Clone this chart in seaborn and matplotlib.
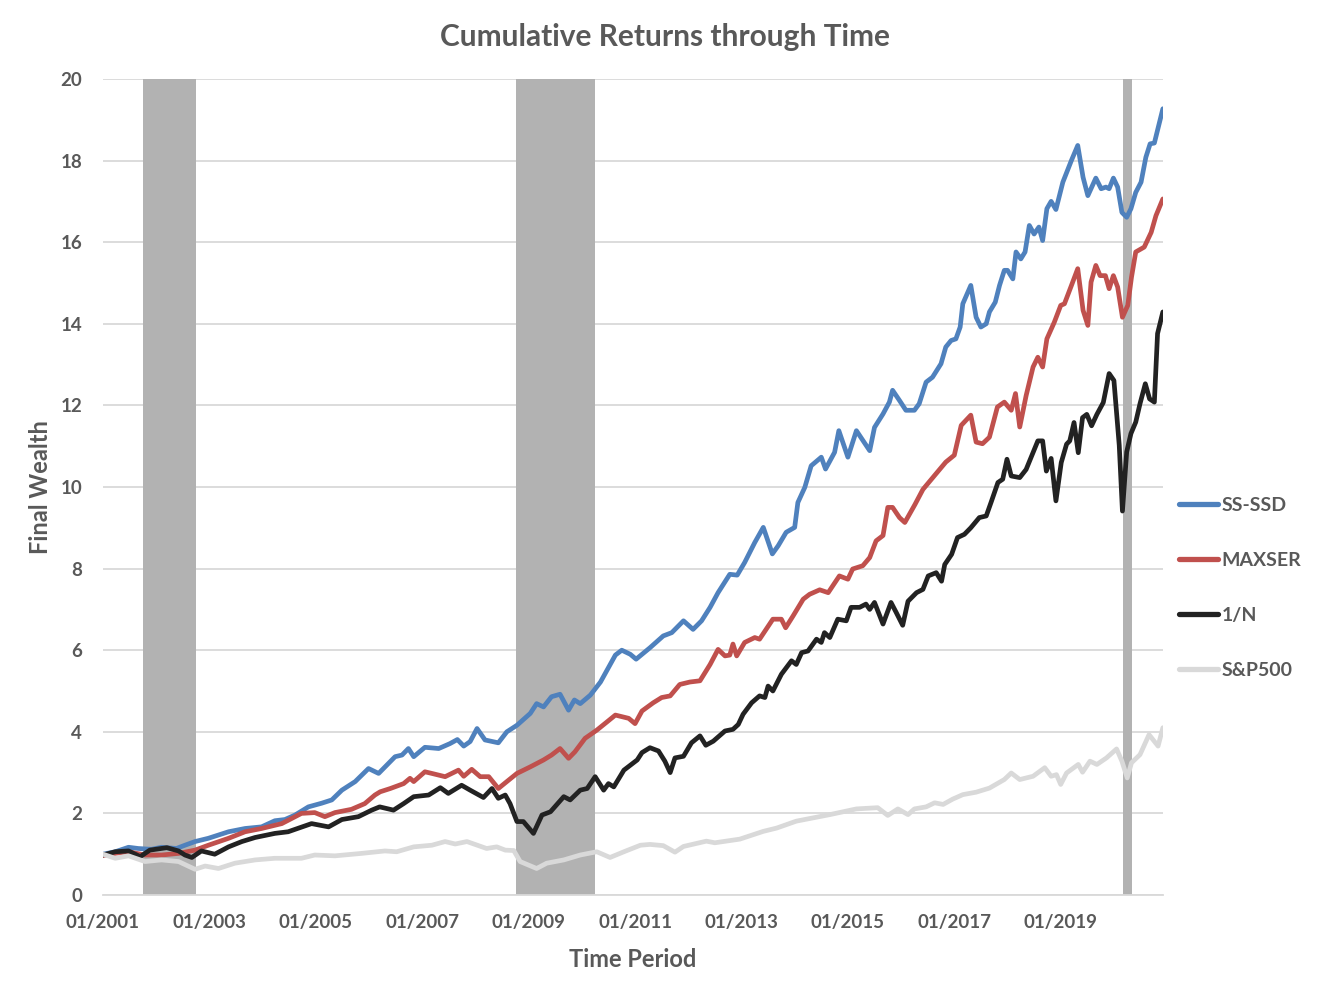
import pandas as pd
import matplotlib.pyplot as plt
import seaborn as sns

# Years since 01/2001 and final wealth
ss_ssd_t = [0.00, 0.23, 0.48, 0.66, 0.91, 1.10, 1.38, 1.54, 1.73, 1.98, 2.36, 2.67, 2.98, 3.23, 3.42,
            3.61, 3.86, 4.11, 4.30, 4.49, 4.74, 4.99, 5.18, 5.30, 5.49, 5.62, 5.74, 5.84, 6.05, 6.31,
            6.52, 6.66, 6.78, 6.90, 7.03, 7.18, 7.43, 7.59, 7.78, 8.03, 8.15, 8.28, 8.43, 8.59, 8.75,
            8.86, 8.97, 9.16, 9.35, 9.63, 9.75, 9.91, 10.02, 10.28, 10.53, 10.69, 10.91, 11.09, 11.25,
            11.41, 11.56, 11.78, 11.92, 12.06, 12.25, 12.41, 12.58, 12.69, 12.84, 13.00, 13.06, 13.19,
            13.31, 13.50, 13.58, 13.75, 13.83, 14.00, 14.16, 14.41, 14.50, 14.66, 14.78, 14.84, 14.97,
            15.09, 15.25, 15.34, 15.47, 15.59, 15.75, 15.84, 15.94, 16.03, 16.11, 16.16, 16.31, 16.41,
            16.50, 16.60, 16.66, 16.77, 16.85, 16.94, 17.00, 17.10, 17.16, 17.25, 17.33, 17.41, 17.50,
            17.59, 17.66, 17.74, 17.82, 17.91, 18.04, 18.20, 18.32, 18.42, 18.51, 18.66, 18.76, 18.85,
            18.91, 18.99, 19.07, 19.15, 19.24, 19.32, 19.41, 19.51, 19.60, 19.68, 19.76, 19.92]
ss_ssd_v = [1.00, 1.06, 1.17, 1.14, 1.12, 1.17, 1.14, 1.22, 1.31, 1.39, 1.55, 1.63, 1.67, 1.82, 1.85,
            1.96, 2.16, 2.25, 2.33, 2.57, 2.78, 3.10, 2.98, 3.14, 3.39, 3.43, 3.59, 3.39, 3.62, 3.59,
            3.71, 3.81, 3.65, 3.76, 4.08, 3.80, 3.73, 4.00, 4.16, 4.45, 4.69, 4.61, 4.86, 4.92, 4.53,
            4.78, 4.69, 4.90, 5.22, 5.88, 6.00, 5.90, 5.78, 6.06, 6.35, 6.43, 6.72, 6.51, 6.72,
            7.05, 7.41, 7.86, 7.84, 8.15, 8.64, 9.01, 8.36, 8.56, 8.89, 9.01, 9.62, 9.99,
            10.52, 10.73, 10.44, 10.85, 11.38, 10.73, 11.38, 10.89, 11.46, 11.79, 12.08, 12.37, 12.12,
            11.88, 11.88, 12.04, 12.57, 12.69, 13.02, 13.43, 13.59, 13.63, 13.92, 14.49, 14.94, 14.16,
            13.92, 14.00, 14.29, 14.53, 14.94, 15.31, 15.31, 15.10, 15.76, 15.59, 15.76, 16.41, 16.20,
            16.37, 16.04, 16.82, 17.00, 16.80, 17.47, 18.00, 18.37, 17.59, 17.14, 17.57, 17.31, 17.35,
            17.31, 17.57, 17.35, 16.73, 16.61, 16.82, 17.22, 17.47, 18.08, 18.41, 18.43, 19.27]

maxser_t = [0.00, 0.23, 0.48, 0.79, 1.10, 1.42, 1.73, 1.98, 2.36, 2.67, 2.98, 3.36, 3.73, 3.98, 4.17,
            4.36, 4.67, 4.92, 5.11, 5.21, 5.40, 5.65, 5.77, 5.84, 6.05, 6.18, 6.43, 6.68, 6.78, 6.93,
            7.09, 7.25, 7.43, 7.59, 7.78, 8.03, 8.28, 8.43, 8.59, 8.75, 8.87, 9.06, 9.28, 9.47, 9.63,
            9.88, 10.00, 10.13, 10.34, 10.50, 10.66, 10.84, 11.03, 11.22, 11.41, 11.56, 11.69, 11.78,
            11.84, 11.91, 12.06, 12.25, 12.34, 12.59, 12.75, 12.83, 12.97, 13.16, 13.28, 13.47, 13.63,
            13.84, 14.00, 14.09, 14.28, 14.41, 14.53, 14.66, 14.75, 14.84, 14.97, 15.07, 15.26, 15.41,
            15.66, 15.84, 16.00, 16.13, 16.31, 16.41, 16.53, 16.66, 16.81, 16.94, 17.07, 17.15, 17.23,
            17.35, 17.48, 17.57, 17.66, 17.74, 17.88, 18.00, 18.07, 18.19, 18.32, 18.42, 18.51, 18.57,
            18.66, 18.74, 18.84, 18.91, 18.99, 19.07, 19.16, 19.26, 19.33, 19.41, 19.57, 19.70, 19.79,
            19.92]
maxser_v = [0.97, 1.02, 1.06, 0.98, 0.98, 1.02, 1.10, 1.22, 1.39, 1.55, 1.63, 1.75, 2.00, 2.02, 1.92,
            2.02, 2.10, 2.24, 2.45, 2.53, 2.61, 2.73, 2.86, 2.78, 3.02, 2.98, 2.90, 3.06, 2.91, 3.08,
            2.90, 2.90, 2.61, 2.78, 2.98, 3.14, 3.31, 3.43, 3.59, 3.35, 3.51, 3.84, 4.04, 4.24, 4.41,
            4.33, 4.20, 4.51, 4.71, 4.84, 4.88, 5.16, 5.22, 5.25, 5.65, 6.02, 5.86, 5.88,
            6.15, 5.86, 6.19, 6.31, 6.27, 6.76, 6.76, 6.55, 6.84, 7.25, 7.37, 7.48, 7.41,
            7.82, 7.74, 7.99, 8.07, 8.27, 8.68, 8.81, 9.50, 9.50, 9.25, 9.13, 9.57, 9.94,
            10.33, 10.61, 10.78, 11.51, 11.76, 11.10, 11.06, 11.22, 11.96, 12.08, 11.88, 12.29, 11.47,
            12.24, 12.94, 13.18, 12.94, 13.63, 14.04, 14.45, 14.49, 14.90, 15.35, 14.33, 13.96, 15.02,
            15.43, 15.18, 15.18, 14.86, 15.18, 14.90, 14.16, 14.45, 15.14, 15.76, 15.88, 16.24, 16.65,
            17.06]

equal_t = [0.00, 0.23, 0.48, 0.70, 0.88, 1.20, 1.42, 1.54, 1.67, 1.85, 2.10, 2.36, 2.61, 2.86, 3.23,
           3.48, 3.92, 4.24, 4.49, 4.80, 5.05, 5.20, 5.46, 5.65, 5.84, 6.12, 6.34, 6.49, 6.74, 6.90,
           7.15, 7.31, 7.43, 7.56, 7.65, 7.78, 7.90, 8.09, 8.25, 8.41, 8.66, 8.78, 8.97, 9.10, 9.25,
           9.41, 9.50, 9.60, 9.79, 10.04, 10.13, 10.28, 10.44, 10.56, 10.66, 10.75, 10.91, 11.06,
           11.22, 11.33, 11.47, 11.69, 11.84, 11.94, 12.03, 12.19, 12.34, 12.44, 12.50, 12.59, 12.75,
           12.94, 13.03, 13.13, 13.25, 13.41, 13.50, 13.56, 13.66, 13.81, 13.97, 14.06, 14.22, 14.34,
           14.41, 14.50, 14.66, 14.81, 14.91, 15.03, 15.13, 15.29, 15.41, 15.51, 15.66, 15.76, 15.82,
           15.95, 16.06, 16.19, 16.31, 16.47, 16.60, 16.69, 16.82, 16.91, 16.99, 17.07, 17.23, 17.35,
           17.48, 17.57, 17.66, 17.73, 17.82, 17.91, 18.01, 18.11, 18.17, 18.25, 18.33, 18.41, 18.49,
           18.58, 18.68, 18.80, 18.91, 19.00, 19.10, 19.16, 19.24, 19.32, 19.41, 19.49, 19.59, 19.67,
           19.76, 19.82, 19.92]
equal_v = [0.98, 1.06, 1.08, 0.94, 1.10, 1.16, 1.08, 0.98, 0.92, 1.08, 1.00, 1.18, 1.31, 1.41, 1.51,
           1.55, 1.75, 1.67, 1.85, 1.92, 2.08, 2.16, 2.08, 2.24, 2.41, 2.45, 2.63, 2.49, 2.69, 2.57,
           2.39, 2.61, 2.37, 2.45, 2.24, 1.80, 1.80, 1.51, 1.96, 2.04, 2.41, 2.33, 2.57, 2.61, 2.90,
           2.57, 2.73, 2.65, 3.06, 3.31, 3.49, 3.61, 3.53, 3.28, 3.00, 3.36, 3.40, 3.73,
           3.90, 3.67, 3.77, 4.02, 4.06, 4.18, 4.43, 4.71, 4.88, 4.84, 5.12, 5.00, 5.41,
           5.74, 5.65, 5.94, 5.98, 6.27, 6.19, 6.43, 6.31, 6.76, 6.72, 7.05, 7.05, 7.13,
           7.00, 7.17, 6.64, 7.17, 6.92, 6.61, 7.20, 7.41, 7.49, 7.82, 7.90, 7.69, 8.10,
           8.35, 8.76, 8.84, 9.00, 9.25, 9.29, 9.62, 10.11, 10.19, 10.68, 10.27, 10.23, 10.43,
           10.84, 11.13, 11.13, 10.39, 10.70, 9.66, 10.60, 11.05, 11.13, 11.58, 10.84, 11.70, 11.78,
           11.50, 11.78, 12.07, 12.78, 12.61, 11.02, 9.41, 10.86, 11.31, 11.59, 12.04, 12.53, 12.16,
           12.08, 13.76, 14.29]

sp500_t = [0.00, 0.23, 0.48, 0.79, 1.10, 1.42, 1.73, 1.92, 2.17, 2.48, 2.86, 3.23, 3.73, 3.98, 4.36,
           4.86, 5.30, 5.52, 5.84, 6.18, 6.43, 6.62, 6.84, 7.21, 7.40, 7.56, 7.72, 7.84, 8.15, 8.34,
           8.66, 8.97, 9.28, 9.53, 9.79, 10.10, 10.28, 10.53, 10.75, 10.91, 11.34, 11.50, 11.97,
           12.41, 12.66, 13.03, 13.66, 14.16, 14.56, 14.75, 14.94, 15.13, 15.25, 15.47, 15.63, 15.79,
           15.97, 16.16, 16.41, 16.66, 16.94, 17.07, 17.23, 17.48, 17.70, 17.82, 17.92, 18.00, 18.11,
           18.33, 18.41, 18.55, 18.68, 18.86, 19.05, 19.15, 19.25, 19.33, 19.49, 19.66, 19.83, 19.92]
sp500_v = [1.00, 0.90, 0.96, 0.82, 0.86, 0.82, 0.63, 0.71, 0.65, 0.78, 0.86, 0.90, 0.90, 0.98, 0.96,
           1.02, 1.08, 1.06, 1.18, 1.22, 1.31, 1.25, 1.31, 1.14, 1.18, 1.10, 1.09, 0.82, 0.65, 0.78,
           0.86, 0.98, 1.06, 0.92, 1.06, 1.22, 1.24, 1.21, 1.05, 1.19, 1.32, 1.28, 1.37,
           1.56, 1.64, 1.81, 1.97, 2.11, 2.14, 1.95, 2.11, 1.97, 2.11, 2.16, 2.26, 2.22,
           2.35, 2.46, 2.52, 2.62, 2.83, 2.99, 2.83, 2.91, 3.12, 2.91, 2.95, 2.71, 2.99,
           3.20, 3.01, 3.28, 3.20, 3.36, 3.58, 3.28, 2.87, 3.24, 3.44, 3.93, 3.65, 4.10]

strategies = ["SS-SSD", "MAXSER", "1/N", "S&P500"]
colors = ["#4F81BD", "#C0504D", "#222222", "#D9D9D9"]
crisis_spans = [(2001.76, 2002.74), (2008.76, 2010.25), (2020.17, 2020.34)]
tick_years = [2001, 2003, 2005, 2007, 2009, 2011, 2013, 2015, 2017, 2019]
tick_labels = ["01/2001", "01/2003", "01/2005", "01/2007", "01/2009",
               "01/2011", "01/2013", "01/2015", "01/2017", "01/2019"]

series = [(ss_ssd_t, ss_ssd_v), (maxser_t, maxser_v), (equal_t, equal_v), (sp500_t, sp500_v)]
frames = []
for name, (t, v) in zip(strategies, series):
    frames.append(pd.DataFrame({"year": [2001 + x for x in t], "wealth": v, "strategy": name}))
df = pd.concat(frames, ignore_index=True)

sns.set_theme(style="white")
plt.rcParams["font.family"] = ["Lato", "DejaVu Sans"]
text_col = "#595959"

fig = plt.figure(figsize=(13.29, 9.97), dpi=100)
ax = fig.add_axes([0.0775, 0.1023, 0.7975, 0.8185])

# shaded crisis periods
for lo, hi in crisis_spans:
    ax.axvspan(lo, hi, color="#B2B2B2", lw=0, zorder=1)

sns.lineplot(data=df, x="year", y="wealth", hue="strategy", hue_order=strategies,
             palette=dict(zip(strategies, colors)), estimator=None, sort=True,
             linewidth=3.4, ax=ax, legend=False, zorder=3)

ax.set_xlim(2001, 2020.92)
ax.set_ylim(0, 20)
ax.set_yticks(range(0, 21, 2))
ax.set_xticks(tick_years)
ax.set_xticklabels(tick_labels)
ax.yaxis.grid(True, color="#D9D9D9", lw=1.3, zorder=0)
ax.set_axisbelow(True)
for s in ["top", "right", "left"]:
    ax.spines[s].set_visible(False)
ax.spines["bottom"].set_color("#D9D9D9")
ax.spines["bottom"].set_linewidth(1.3)
ax.spines["bottom"].set_zorder(2)
ax.tick_params(axis="x", length=5, width=1.3, color="#D9D9D9", pad=9,
               labelsize=13.5, labelcolor=text_col)
ax.tick_params(axis="y", length=0, pad=15, labelsize=13.5, labelcolor=text_col)
for lab in ax.get_xticklabels() + ax.get_yticklabels():
    lab.set_fontweight("bold")

fig.suptitle("Cumulative Returns through Time", x=0.5, y=0.977, fontsize=21.5,
             fontweight="bold", color=text_col)
ax.set_xlabel("Time Period", fontsize=17, fontweight="bold", color=text_col, labelpad=12)
ax.set_ylabel("Final Wealth", fontsize=17, fontweight="bold", color=text_col, labelpad=6)

handles = [plt.Line2D([], [], color=c, lw=3.8, solid_capstyle="round") for c in colors]
leg = ax.legend(handles, strategies, loc="center left", bbox_to_anchor=(1.015, 0.376),
                frameon=False, fontsize=14, handlelength=2.0, handletextpad=0.2,
                labelspacing=1.95, borderaxespad=0, borderpad=0)
for txt in leg.get_texts():
    txt.set_color(text_col)
    txt.set_fontweight("bold")

fig.savefig("out.png", dpi=100)
